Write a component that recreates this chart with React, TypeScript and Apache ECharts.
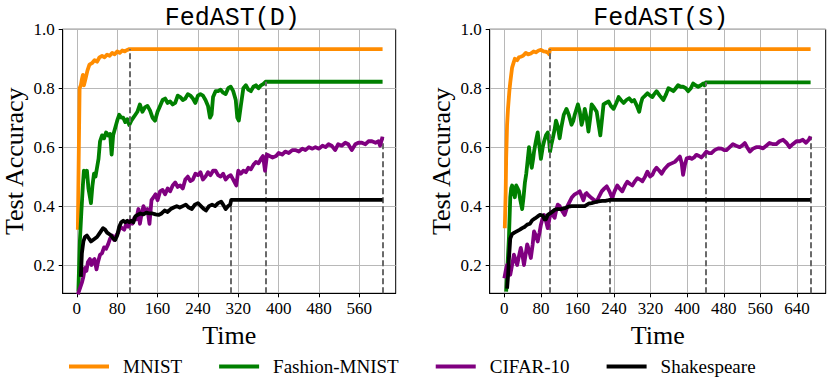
import React, { useEffect, useRef } from "react";
import * as echarts from "echarts";

const seriesNames = ["MNIST", "Fashion-MNIST", "CIFAR-10", "Shakespeare"];
const seriesColors = ["#ff8c00", "#008000", "#800080", "#000000"];
const chartTitles = ["FedAST(D)", "FedAST(S)"];

const yTicks = [0.2, 0.4, 0.6, 0.8, 1.0];
const xTicksD = [0, 80, 160, 240, 320, 400, 480, 560];
const xTicksS = [0, 80, 160, 240, 320, 400, 480, 560, 640];

// ---------- FedAST(D) ----------
const mnistDT = [2, 4, 5.5, 8, 10, 12, 14, 17, 21, 25, 30, 35, 40, 45, 50, 55, 60, 65, 70, 75, 80, 85, 90, 95, 100, 104, 606];
const mnistDV = [0.32, 0.6, 0.8, 0.81, 0.83, 0.845, 0.81, 0.83, 0.86, 0.88, 0.885, 0.895, 0.89, 0.905, 0.91, 0.905, 0.914, 0.91, 0.92, 0.915, 0.925, 0.92, 0.928, 0.925, 0.93, 0.933, 0.933];

const fashionDT = [3, 6, 9, 12, 14, 17, 20, 23, 26, 28, 31, 34, 37, 40, 43, 46, 50, 54, 58, 62, 66, 69, 72, 76, 80, 84, 88, 92, 96, 100, 104, 108, 112, 116, 120, 125, 130, 135, 140, 145, 150, 155, 160, 165, 170, 175, 180, 185, 190, 195, 200, 205, 210, 215, 220, 225, 230, 235, 240, 245, 250, 255, 260, 264, 267, 270, 275, 280, 285, 290, 295, 300, 305, 310, 315, 318, 321, 325, 330, 335, 340, 345, 350, 355, 360, 365, 370, 374, 606];
const fashionDV = [0.11, 0.28, 0.38, 0.47, 0.52, 0.5, 0.52, 0.46, 0.43, 0.41, 0.47, 0.51, 0.5, 0.53, 0.56, 0.62, 0.64, 0.63, 0.65, 0.64, 0.645, 0.575, 0.64, 0.665, 0.69, 0.71, 0.7, 0.7, 0.685, 0.695, 0.675, 0.69, 0.7, 0.71, 0.72, 0.745, 0.72, 0.735, 0.74, 0.725, 0.7, 0.69, 0.72, 0.74, 0.76, 0.765, 0.75, 0.755, 0.745, 0.75, 0.775, 0.77, 0.76, 0.765, 0.78, 0.775, 0.765, 0.75, 0.775, 0.78, 0.775, 0.76, 0.74, 0.7, 0.71, 0.77, 0.79, 0.79, 0.795, 0.785, 0.78, 0.8, 0.805, 0.79, 0.76, 0.7, 0.69, 0.74, 0.8, 0.81, 0.795, 0.79, 0.805, 0.81, 0.8, 0.81, 0.815, 0.822, 0.822];

const cifarDT = [2, 6, 10, 13, 16, 19, 22, 26, 29, 32, 35, 39, 42, 46, 50, 54, 58, 62, 66, 70, 74, 78, 82, 86, 90, 94, 98, 102, 106, 110, 114, 118, 122, 125, 128, 132, 136, 140, 144, 148, 152, 156, 160, 165, 170, 175, 180, 185, 190, 195, 200, 205, 210, 215, 220, 225, 230, 235, 240, 245, 250, 255, 260, 265, 270, 275, 280, 285, 290, 295, 300, 305, 310, 316, 320, 325, 330, 335, 340, 345, 350, 355, 360, 365, 369, 373, 377, 382, 388, 395, 400, 407, 413, 420, 427, 433, 440, 447, 453, 460, 467, 473, 480, 487, 493, 499, 505, 512, 518, 525, 532, 538, 545, 552, 558, 565, 572, 578, 585, 592, 598, 601, 606];
const cifarDV = [0.1, 0.12, 0.14, 0.16, 0.19, 0.18, 0.21, 0.22, 0.2, 0.215, 0.22, 0.185, 0.21, 0.235, 0.24, 0.26, 0.255, 0.27, 0.29, 0.3, 0.285, 0.3, 0.31, 0.33, 0.325, 0.32, 0.34, 0.33, 0.35, 0.34, 0.36, 0.355, 0.39, 0.34, 0.37, 0.4, 0.38, 0.39, 0.34, 0.42, 0.43, 0.44, 0.42, 0.45, 0.455, 0.44, 0.46, 0.45, 0.47, 0.48, 0.465, 0.47, 0.46, 0.49, 0.5, 0.485, 0.49, 0.51, 0.505, 0.515, 0.49, 0.5, 0.515, 0.505, 0.52, 0.52, 0.505, 0.5, 0.51, 0.49, 0.5, 0.505, 0.49, 0.47, 0.52, 0.51, 0.52, 0.515, 0.53, 0.525, 0.54, 0.55, 0.545, 0.56, 0.57, 0.52, 0.575, 0.57, 0.565, 0.57, 0.58, 0.575, 0.585, 0.58, 0.59, 0.59, 0.585, 0.595, 0.59, 0.6, 0.595, 0.6, 0.595, 0.605, 0.6, 0.61, 0.605, 0.59, 0.61, 0.605, 0.615, 0.61, 0.59, 0.61, 0.615, 0.615, 0.61, 0.62, 0.62, 0.615, 0.62, 0.605, 0.635];

const shakesDT = [8, 10, 13, 16, 20, 24, 28, 32, 36, 40, 44, 48, 52, 56, 60, 64, 68, 72, 76, 80, 84, 88, 92, 96, 100, 104, 108, 112, 116, 120, 126, 132, 138, 144, 150, 156, 162, 168, 174, 180, 186, 192, 198, 204, 210, 216, 222, 228, 234, 240, 246, 252, 256, 262, 268, 274, 280, 286, 290, 295, 300, 304, 306, 606];
const shakesDV = [0.16, 0.24, 0.28, 0.295, 0.3, 0.29, 0.28, 0.285, 0.29, 0.295, 0.305, 0.315, 0.325, 0.32, 0.31, 0.305, 0.3, 0.29, 0.285, 0.3, 0.33, 0.345, 0.35, 0.345, 0.35, 0.345, 0.35, 0.345, 0.365, 0.37, 0.375, 0.372, 0.378, 0.375, 0.375, 0.372, 0.37, 0.375, 0.385, 0.38, 0.39, 0.395, 0.4, 0.395, 0.4, 0.405, 0.395, 0.39, 0.405, 0.41, 0.4, 0.39, 0.385, 0.4, 0.405, 0.4, 0.41, 0.415, 0.405, 0.39, 0.4, 0.405, 0.421, 0.421];

const stopD = [104, 374, 606, 306];

// ---------- FedAST(S) ----------
const mnistST = [1, 3, 4, 6, 8, 11, 13, 17, 20, 23, 28, 32, 36, 41, 47, 52, 58, 64, 69, 75, 80, 86, 91, 96, 98, 100, 670];
const mnistSV = [0.325, 0.45, 0.56, 0.675, 0.73, 0.79, 0.82, 0.87, 0.885, 0.9, 0.895, 0.905, 0.907, 0.91, 0.92, 0.915, 0.918, 0.925, 0.922, 0.928, 0.93, 0.925, 0.924, 0.92, 0.915, 0.933, 0.933];

const fashionST = [4, 7, 10, 13, 15, 17, 20, 23, 26, 29, 32, 35, 39, 42, 45, 48, 50, 54, 57, 60, 63, 65, 69, 73, 77, 80, 84, 87, 91, 95, 98, 100, 103, 106, 110, 113, 117, 121, 125, 130, 136, 141, 147, 151, 154, 158, 161, 165, 169, 173, 176, 180, 184, 188, 191, 196, 202, 206, 210, 214, 217, 222, 228, 233, 239, 245, 250, 255, 261, 267, 273, 279, 284, 290, 295, 299, 302, 308, 313, 319, 324, 328, 333, 340, 348, 354, 359, 365, 370, 375, 380, 386, 391, 397, 402, 408, 413, 418, 424, 430, 435, 438, 441, 670];
const fashionSV = [0.11, 0.2, 0.29, 0.43, 0.46, 0.47, 0.45, 0.43, 0.47, 0.46, 0.45, 0.42, 0.39, 0.43, 0.48, 0.51, 0.54, 0.6, 0.56, 0.53, 0.56, 0.585, 0.62, 0.65, 0.6, 0.56, 0.6, 0.62, 0.64, 0.65, 0.62, 0.585, 0.61, 0.63, 0.66, 0.69, 0.67, 0.63, 0.67, 0.71, 0.73, 0.71, 0.676, 0.69, 0.71, 0.73, 0.745, 0.72, 0.676, 0.7, 0.73, 0.7, 0.653, 0.7, 0.745, 0.735, 0.72, 0.68, 0.64, 0.7, 0.745, 0.75, 0.755, 0.74, 0.73, 0.75, 0.77, 0.76, 0.75, 0.76, 0.766, 0.755, 0.76, 0.74, 0.72, 0.75, 0.766, 0.775, 0.783, 0.775, 0.77, 0.78, 0.79, 0.775, 0.76, 0.78, 0.8, 0.795, 0.79, 0.8, 0.81, 0.805, 0.805, 0.8, 0.79, 0.8, 0.816, 0.81, 0.805, 0.81, 0.816, 0.81, 0.82, 0.82];

const cifarST = [0, 3, 6, 9, 13, 17, 21, 24, 28, 32, 36, 40, 43, 47, 50, 54, 58, 62, 65, 69, 73, 77, 80, 84, 87, 91, 95, 99, 102, 106, 110, 114, 117, 121, 124, 128, 132, 138, 143, 148, 154, 160, 165, 169, 173, 177, 180, 185, 191, 197, 202, 208, 213, 219, 224, 230, 236, 241, 247, 252, 258, 264, 269, 275, 280, 286, 291, 297, 302, 308, 313, 319, 324, 328, 333, 339, 344, 350, 356, 359, 366, 373, 379, 384, 388, 391, 395, 399, 405, 410, 415, 420, 426, 431, 437, 442, 448, 453, 460, 468, 475, 481, 486, 493, 500, 507, 515, 520, 526, 531, 537, 544, 551, 558, 566, 573, 580, 588, 595, 602, 610, 617, 624, 631, 639, 646, 653, 660, 666, 670];
const cifarSV = [0.155, 0.18, 0.2, 0.19, 0.167, 0.2, 0.235, 0.22, 0.2, 0.23, 0.258, 0.23, 0.2, 0.24, 0.27, 0.25, 0.224, 0.27, 0.314, 0.3, 0.28, 0.31, 0.337, 0.36, 0.37, 0.35, 0.325, 0.36, 0.38, 0.37, 0.36, 0.39, 0.405, 0.4, 0.39, 0.38, 0.37, 0.4, 0.415, 0.43, 0.44, 0.445, 0.45, 0.435, 0.42, 0.44, 0.444, 0.435, 0.427, 0.42, 0.415, 0.435, 0.45, 0.46, 0.467, 0.45, 0.427, 0.45, 0.47, 0.46, 0.45, 0.47, 0.483, 0.475, 0.47, 0.485, 0.495, 0.49, 0.484, 0.5, 0.517, 0.5, 0.506, 0.52, 0.53, 0.52, 0.51, 0.525, 0.535, 0.54, 0.545, 0.55, 0.56, 0.568, 0.545, 0.506, 0.54, 0.562, 0.565, 0.56, 0.565, 0.574, 0.57, 0.565, 0.575, 0.585, 0.58, 0.58, 0.59, 0.596, 0.595, 0.59, 0.59, 0.6, 0.61, 0.605, 0.6, 0.605, 0.614, 0.6, 0.585, 0.595, 0.6, 0.6, 0.596, 0.605, 0.614, 0.61, 0.61, 0.62, 0.625, 0.615, 0.6, 0.61, 0.62, 0.62, 0.625, 0.615, 0.625, 0.636];

const shakesST = [6, 8, 10, 13, 17, 22, 28, 34, 39, 45, 50, 56, 61, 67, 73, 78, 84, 88, 91, 95, 100, 106, 111, 117, 125, 132, 140, 147, 154, 161, 169, 176, 184, 191, 198, 206, 214, 221, 228, 231, 670];
const shakesSV = [0.12, 0.16, 0.22, 0.29, 0.305, 0.31, 0.315, 0.32, 0.325, 0.33, 0.337, 0.34, 0.352, 0.358, 0.365, 0.37, 0.368, 0.355, 0.355, 0.37, 0.375, 0.382, 0.388, 0.39, 0.39, 0.393, 0.398, 0.4, 0.4, 0.4, 0.4, 0.4, 0.408, 0.41, 0.413, 0.416, 0.418, 0.418, 0.42, 0.421, 0.421];

const stopS = [100, 441, 670, 231];

const Y_MIN = 0.104;
const Y_MAX = 1.0;

const FONT = "'Liberation Serif', 'Times New Roman', serif";

export default function App() {
  const ref = useRef<HTMLDivElement>(null);

  useEffect(() => {
    document.body.style.margin = "0";
    const chart = echarts.init(ref.current!, null, { renderer: "svg" });

    const panels = [
      {
        times: [mnistDT, fashionDT, cifarDT, shakesDT],
        vals: [mnistDV, fashionDV, cifarDV, shakesDV],
        stops: stopD,
        xTicks: xTicksD,
        xMin: -28,
        xMax: 632,
      },
      {
        times: [mnistST, fashionST, cifarST, shakesST],
        vals: [mnistSV, fashionSV, cifarSV, shakesSV],
        stops: stopS,
        xTicks: xTicksS,
        xMin: -32,
        xMax: 703,
      },
    ];

    const grids = [
      { left: 62.7, top: 29.3, width: 333, height: 264 },
      { left: 489.7, top: 29.3, width: 336, height: 264 },
    ];

    const series: any[] = [];
    panels.forEach((p, gi) => {
      seriesNames.forEach((name, si) => {
        const t = p.times[si];
        const v = p.vals[si];
        const stopIdx = t.indexOf(p.stops[si]);
        const stopVal = v[stopIdx];
        series.push({
          name,
          type: "line",
          xAxisIndex: gi,
          yAxisIndex: gi,
          data: t.map((x, i) => [x, v[i]]),
          showSymbol: false,
          symbol: "none",
          itemStyle: { color: seriesColors[si] },
          lineStyle: { color: seriesColors[si], width: 3.8, join: "round" },
          z: 3 + si,
          markLine: {
            silent: true,
            symbol: ["none", "none"],
            label: { show: false },
            lineStyle: { type: [6, 3], color: "#6a6a6a", width: 2 },
            data: [[{ coord: [p.stops[si], Y_MIN] }, { coord: [p.stops[si], stopVal] }]],
          },
        });
      });
    });

    const option: any = {
      animation: false,
      backgroundColor: "#ffffff",
      title: chartTitles.map((text, i) => ({
        text,
        left: grids[i].left + grids[i].width / 2 - 2,
        top: 1,
        textAlign: "center",
        textStyle: {
          fontFamily: "'Liberation Mono', 'DejaVu Sans Mono', monospace",
          fontSize: 25,
          fontWeight: "normal",
          color: "#000",
        },
      })),
      legend: {
        data: seriesNames,
        left: 64,
        top: 352,
        icon: "rect",
        itemWidth: 40,
        itemHeight: 4,
        itemGap: 37,
        itemStyle: { borderWidth: 0 },
        textStyle: {
          fontFamily: FONT,
          fontSize: 19,
          fontWeight: 400,
          color: "#000",
          padding: [0, 0, 0, 9],
        },
      },
      grid: grids.map((g) => ({
        ...g,
        show: true,
        borderColor: "#000",
        borderWidth: 1,
        containLabel: false,
        outerBoundsMode: "none",
      })),
      xAxis: panels.map((p, i) => ({
        type: "value",
        gridIndex: i,
        min: p.xMin,
        max: p.xMax,
        name: "Time",
        nameLocation: "middle",
        nameGap: 26,
        nameTextStyle: { fontFamily: FONT, fontSize: 26, fontWeight: "normal", color: "#000" },
        axisLine: { show: true, onZero: false, lineStyle: { color: "#000", width: 1 } },
        axisTick: { show: true, inside: false, length: 4, customValues: p.xTicks, lineStyle: { color: "#000" } },
        axisLabel: { show: true, customValues: p.xTicks, margin: 7, fontFamily: FONT, fontSize: 17, color: "#000" },
        splitLine: { show: true, lineStyle: { color: "#b8b8b8", width: 1 } },
      })),
      yAxis: panels.map((p, i) => ({
        type: "value",
        gridIndex: i,
        min: Y_MIN,
        max: Y_MAX,
        name: "Test Accuracy",
        nameLocation: "middle",
        nameGap: 35,
        nameRotate: 90,
        nameTextStyle: { fontFamily: FONT, fontSize: 26, fontWeight: "normal", color: "#000" },
        axisLine: { show: true, onZero: false, lineStyle: { color: "#000", width: 1 } },
        axisTick: { show: true, inside: false, length: 4, customValues: yTicks, lineStyle: { color: "#000" } },
        axisLabel: {
          show: true,
          customValues: yTicks,
          margin: 8,
          fontFamily: FONT,
          fontSize: 17,
          color: "#000",
          formatter: (val: number) => val.toFixed(1),
        },
        splitLine: { show: true, lineStyle: { color: "#b8b8b8", width: 1 } },
      })),
      series,
    };

    chart.setOption(option);
    return () => chart.dispose();
  }, []);

  return <div ref={ref} style={{ width: 831, height: 379 }} />;
}
